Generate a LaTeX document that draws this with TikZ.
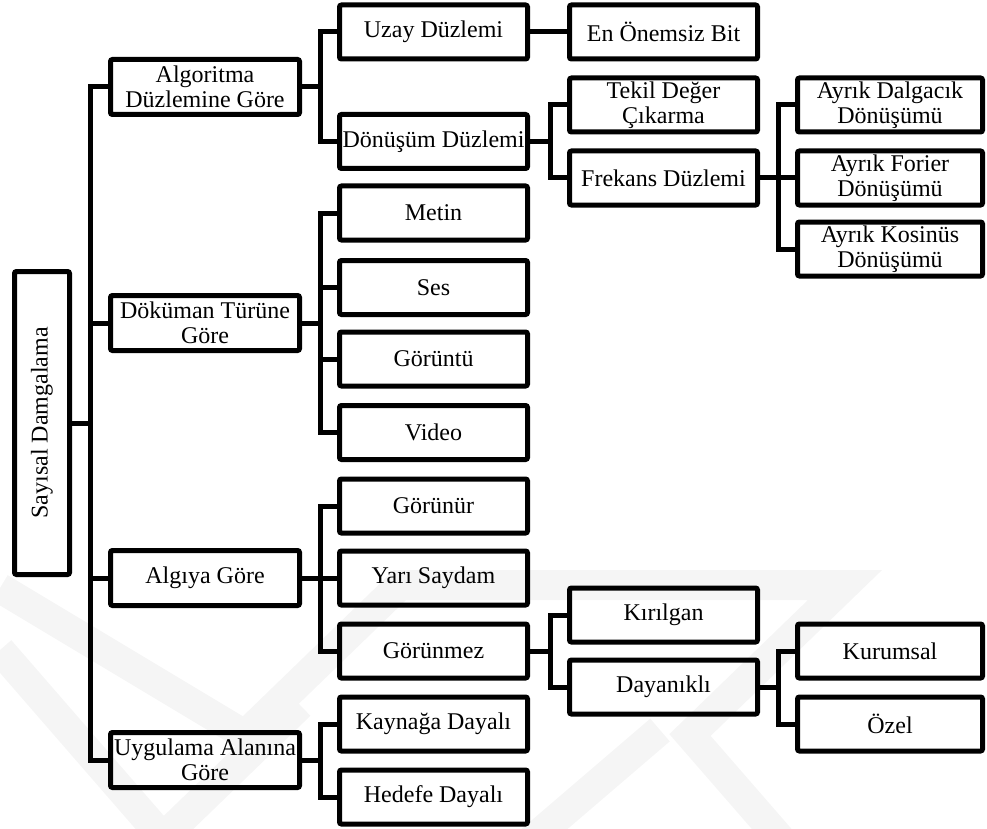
\documentclass[tikz,border=0pt]{standalone}
\usepackage{fontspec}
\setmainfont{Liberation Serif}
\begin{document}
\begin{tikzpicture}[x=1pt,y=-1pt,
  box/.style={draw=black, line width=5pt, rounded corners=2pt, inner sep=0pt, align=center,
    font=\fontsize{24}{25}\selectfont},
  lone/.style={box, minimum width=189pt, minimum height=55pt},
  ltwo/.style={box, minimum width=188pt, minimum height=54pt},
  lthree/.style={box, minimum width=188pt, minimum height=54pt},
  lfour/.style={box, minimum width=185pt, minimum height=54pt},
  conn/.style={line width=5pt, line join=miter},
  wm/.style={line width=30pt, draw=black!4, line join=miter, line cap=butt}]
\useasboundingbox (0,0) rectangle (987,829);
% faint watermark
\draw[wm] (0,588) -- (245,735) -- (400,585) -- (845,585) -- (690,735) -- (790,850);
\draw[wm] (0,650) -- (165,840);
\draw[wm] (150,850) -- (300,705);
\draw[wm] (520,850) -- (660,730);

% root
\node[box, minimum width=55pt, minimum height=303pt] (root) at (42,423) {\rotatebox{90}{Sayısal Damgalama}};

% level 1
\node[lone] (alg) at (205,87) {Algoritma\\Düzlemine Göre};
\node[lone] (dok) at (205,323) {Döküman Türüne\\Göre};
\node[lone] (alq) at (205,578) {Algıya Göre};
\node[lone] (uyg) at (205,760) {Uygulama Alanına\\Göre};

% level 2
\node[ltwo] (uzay) at (433.5,32) {Uzay Düzlemi};
\node[ltwo] (don) at (433.5,141.5) {Dönüşüm Düzlemi};
\node[ltwo] (metin) at (433.5,213) {Metin};
\node[ltwo] (ses) at (433.5,287.5) {Ses};
\node[ltwo] (gor) at (433.5,359) {Görüntü};
\node[ltwo] (video) at (433.5,432.5) {Video};
\node[ltwo] (gorunur) at (433.5,506) {Görünür};
\node[ltwo] (yari) at (433.5,578) {Yarı Saydam};
\node[ltwo] (gorunmez) at (433.5,651) {Görünmez};
\node[ltwo] (kay) at (433.5,724) {Kaynağa Dayalı};
\node[ltwo] (hed) at (433.5,797) {Hedefe Dayalı};

% level 3
\node[lthree] (enb) at (663.5,32) {En Önemsiz Bit};
\node[lthree] (tekil) at (663.5,105) {Tekil Değer\\Çıkarma};
\node[lthree] (frek) at (663.5,178) {Frekans Düzlemi};
\node[lthree] (kir) at (663.5,615) {Kırılgan};
\node[lthree] (day) at (663.5,687) {Dayanıklı};

% level 4
\node[lfour] (dalga) at (890,105) {Ayrık Dalgacık\\Dönüşümü};
\node[lfour] (forier) at (890,178) {Ayrık Forier\\Dönüşümü};
\node[lfour] (kos) at (890,249) {Ayrık Kosinüs\\Dönüşümü};
\node[lfour] (kurum) at (890,651) {Kurumsal};
\node[lfour] (ozel) at (890,724) {Özel};

% connectors
\foreach \c in {alg,dok,alq,uyg} \draw[conn] (root.east) -- ++(18,0) |- (\c.west);
\foreach \c in {uzay,don} \draw[conn] (alg.east) -- ++(18,0) |- (\c.west);
\foreach \c in {metin,ses,gor,video} \draw[conn] (dok.east) -- ++(18,0) |- (\c.west);
\foreach \c in {gorunur,yari,gorunmez} \draw[conn] (alq.east) -- ++(18,0) |- (\c.west);
\foreach \c in {kay,hed} \draw[conn] (uyg.east) -- ++(18,0) |- (\c.west);
\draw[conn] (uzay.east) -- (enb.west);
\foreach \c in {tekil,frek} \draw[conn] (don.east) -- ++(20,0) |- (\c.west);
\foreach \c in {dalga,forier,kos} \draw[conn] (frek.east) -- ++(18,0) |- (\c.west);
\foreach \c in {kir,day} \draw[conn] (gorunmez.east) -- ++(20,0) |- (\c.west);
\foreach \c in {kurum,ozel} \draw[conn] (day.east) -- ++(18,0) |- (\c.west);
\end{tikzpicture}
\end{document}
